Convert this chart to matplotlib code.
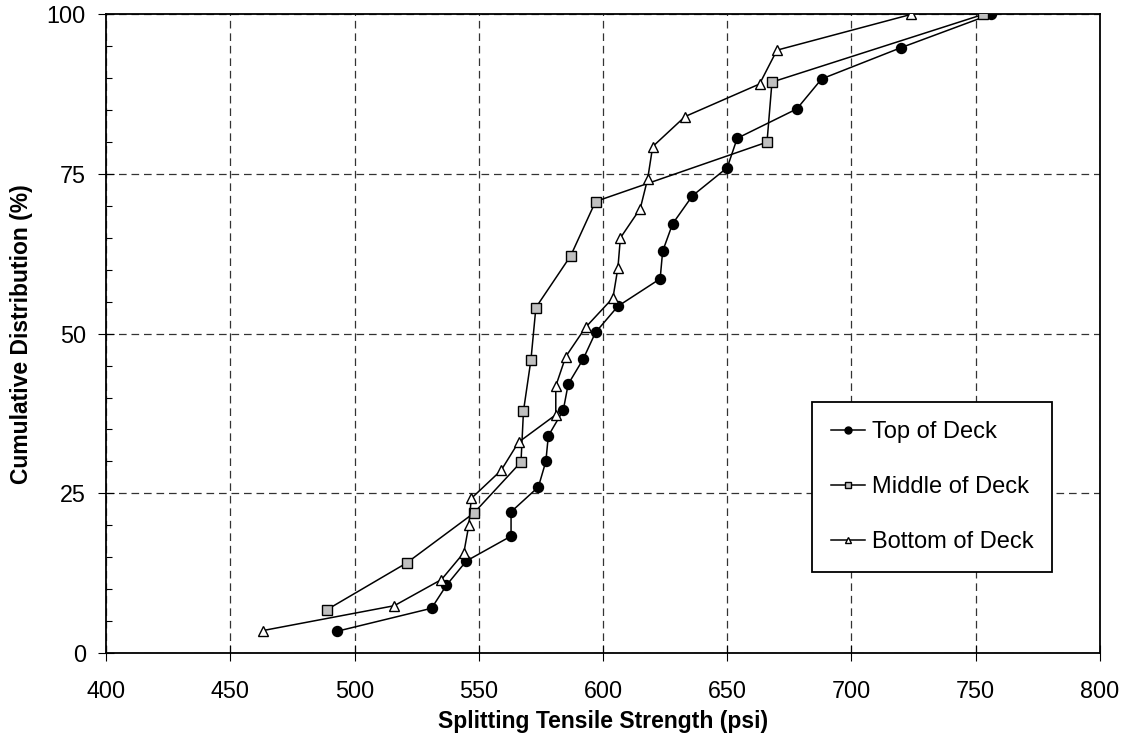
import matplotlib
matplotlib.use("Agg")
import matplotlib.pyplot as plt
from matplotlib.ticker import MultipleLocator

plt.rcParams["font.family"] = ["Liberation Sans", "DejaVu Sans"]
plt.rcParams["lines.scale_dashes"] = False

# Top of Deck
top_psi = [493, 531, 537, 545, 563, 563, 574, 577, 578, 584, 586, 592,
           597, 606, 623, 624, 628, 636, 650, 654, 678, 688, 720, 756]
top_pct = [3.4, 7.0, 10.6, 14.4, 18.3, 22.1, 26.0, 30.0, 34.0, 38.0, 42.1, 46.0,
           50.2, 54.3, 58.6, 62.9, 67.2, 71.6, 76.0, 80.6, 85.2, 89.9, 94.8, 100]

# Middle of Deck
mid_psi = [489, 521, 548, 567, 568, 571, 573, 587, 597, 666, 668, 753]
mid_pct = [6.8, 14.1, 21.9, 29.9, 37.9, 45.9, 54.1, 62.2, 70.7, 80.0, 89.4, 100]

# Bottom of Deck
bot_psi = [463, 516, 535, 544, 546, 547, 559, 566, 581, 581, 585, 593,
           604, 606, 607, 615, 618, 620, 633, 663, 670, 724]
bot_pct = [3.5, 7.4, 11.5, 15.7, 20.0, 24.2, 28.6, 33.0, 37.3, 41.8, 46.4, 51.0,
           55.6, 60.3, 65.0, 69.6, 74.3, 79.3, 84.0, 89.1, 94.4, 100]

labels = ["Top of Deck", "Middle of Deck", "Bottom of Deck"]

fig = plt.figure(figsize=(11.29, 7.46), dpi=100)
ax = fig.add_axes([0.0939, 0.1247, 0.8804, 0.856])

ax.plot(top_psi, top_pct, "-o", color="black", lw=1.1, ms=7.2,
        mfc="black", mec="black", mew=1.0, label=labels[0], zorder=3)
ax.plot(mid_psi, mid_pct, "-s", color="black", lw=1.1, ms=6.6,
        mfc="#c0c0c0", mec="black", mew=1.0, label=labels[1], zorder=3)
ax.plot(bot_psi, bot_pct, "-^", color="black", lw=1.1, ms=7.6,
        mfc="white", mec="black", mew=1.0, label=labels[2], zorder=3)

ax.set_xlim(400, 800)
ax.set_ylim(0, 100)
ax.xaxis.set_major_locator(MultipleLocator(50))
ax.yaxis.set_major_locator(MultipleLocator(25))
ax.yaxis.set_minor_locator(MultipleLocator(5))

ax.grid(True, which="major", color="#333333", lw=0.9,
        linestyle=(0, (5.5, 3.5)), zorder=0)
ax.set_axisbelow(True)

for s in ax.spines.values():
    s.set_color("black")
    s.set_linewidth(1.3)

ax.tick_params(axis="both", which="major", direction="inout", length=11,
               width=0.8, labelsize=16.8, color="black")
ax.tick_params(axis="x", which="major", pad=14)
ax.tick_params(axis="y", which="major", pad=9)
ax.tick_params(axis="y", which="minor", direction="in", length=4.5, width=0.8)
ax.tick_params(axis="x", which="minor", bottom=False)

ax.set_xlabel("Splitting Tensile Strength (psi)", fontsize=16.5,
              fontweight="bold", labelpad=5)
ax.set_ylabel("Cumulative Distribution (%)", fontsize=16.5,
              fontweight="bold", labelpad=10)

leg = ax.legend(loc="center", bbox_to_anchor=(0.831, 0.26), fontsize=17,
                fancybox=False, edgecolor="black", framealpha=1,
                borderpad=0.8, labelspacing=1.4, handlelength=1.45,
                handletextpad=0.3, borderaxespad=0)
leg.get_frame().set_linewidth(1.3)
for h in leg.legend_handles:
    h.set_markersize(5)

fig.savefig("out.png", dpi=100)
